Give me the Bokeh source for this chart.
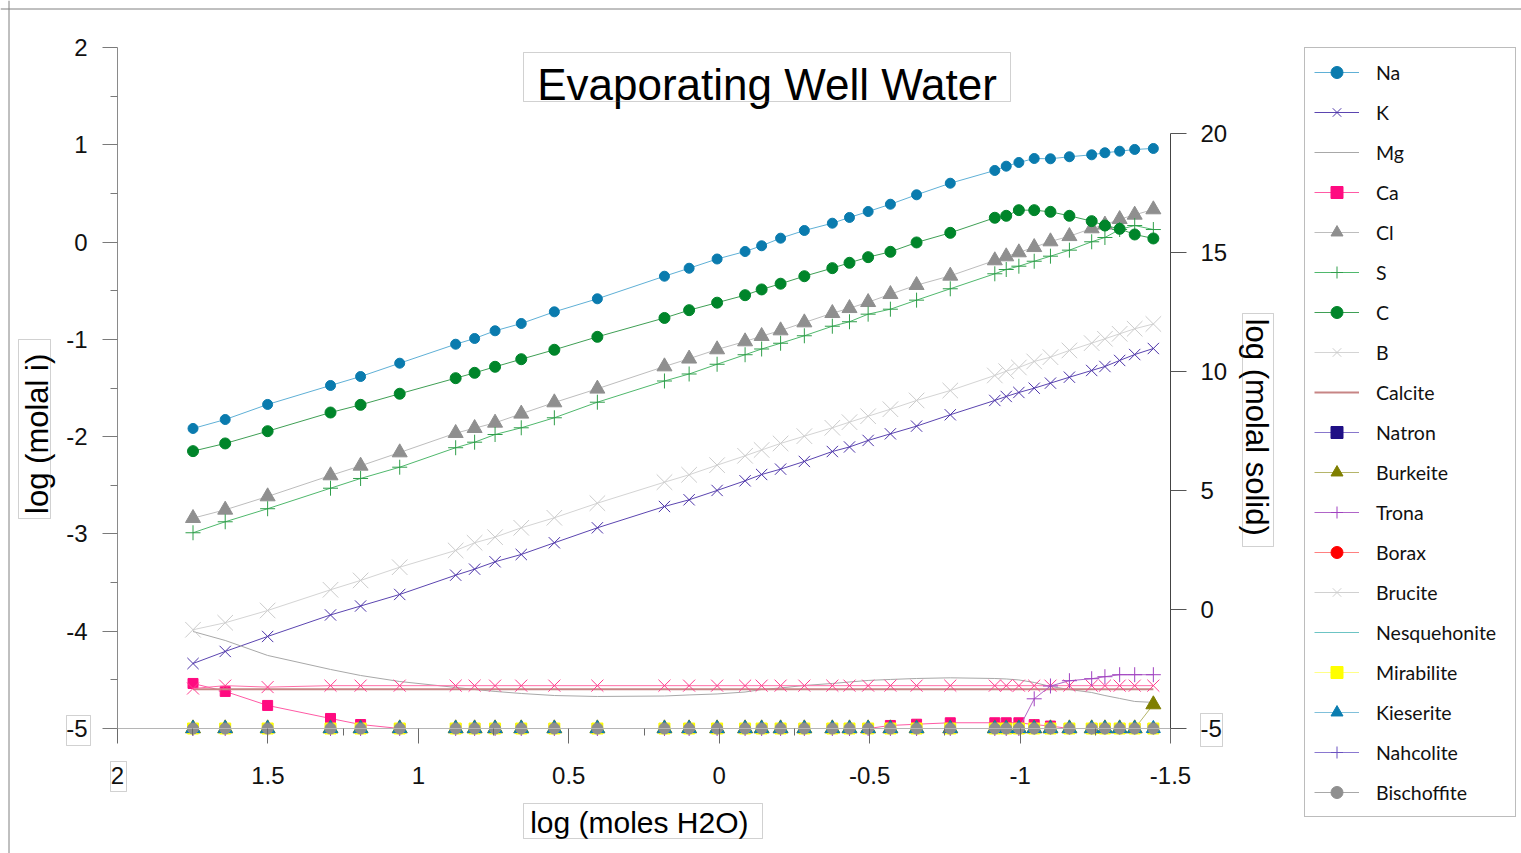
import math
from bokeh.plotting import figure
from bokeh.models import (Range1d, LinearAxis, FixedTicker, CustomJSTickFormatter,
                          Label, BoxAnnotation, Span, Legend, LegendItem, ColumnDataSource)
from bokeh.embed import file_html
from bokeh.resources import INLINE

# ---------------- data ----------------
log_h2o = [1.749, 1.642, 1.501, 1.292, 1.192, 1.062, 0.876, 0.813, 0.745, 0.658,
           0.548, 0.405, 0.182, 0.100, 0.007, -0.086, -0.141, -0.204, -0.283, -0.376,
           -0.433, -0.495, -0.569, -0.656, -0.768, -0.916, -0.954, -0.996, -1.047, -1.101,
           -1.164, -1.238, -1.282, -1.331, -1.381, -1.443]

# log molal of aqueous components (left axis)
na = [-1.916, -1.824, -1.669, -1.474, -1.382, -1.245, -1.050, -0.991, -0.912, -0.837,
      -0.717, -0.583, -0.351, -0.269, -0.174, -0.097, -0.038, 0.040, 0.119, 0.194,
      0.253, 0.314, 0.389, 0.486, 0.605, 0.736, 0.780, 0.818, 0.859, 0.856,
      0.877, 0.897, 0.918, 0.934, 0.952, 0.962]
k = [-4.332, -4.208, -4.054, -3.833, -3.741, -3.622, -3.424, -3.362, -3.286, -3.211,
     -3.091, -2.937, -2.718, -2.649, -2.553, -2.454, -2.389, -2.334, -2.255, -2.153,
     -2.106, -2.039, -1.971, -1.892, -1.775, -1.628, -1.587, -1.546, -1.502, -1.450,
     -1.389, -1.320, -1.279, -1.217, -1.156, -1.094]
mg = [-4.003, -4.095, -4.249, -4.393, -4.455, -4.517, -4.578, -4.599, -4.619, -4.640,
      -4.661, -4.671, -4.666, -4.655, -4.645, -4.625, -4.599, -4.583, -4.558, -4.537,
      -4.522, -4.506, -4.496, -4.486, -4.479, -4.486, -4.491, -4.501, -4.527, -4.568,
      -4.599, -4.630, -4.661, -4.691, -4.722, -4.732]
ca = [-4.537, -4.619, -4.763, -4.897, -4.959, -5.0, -5.0, -5.0, -5.0, -5.0,
      -5.0, -5.0, -5.0, -5.0, -5.0, -5.0, -5.0, -5.0, -5.0, -5.0,
      -5.0, -5.0, -4.969, -4.956, -4.941, -4.941, -4.941, -4.941, -4.960, -4.975,
      -5.0, -5.0, -5.0, -5.0, -5.0, -5.0]
cl = [-2.838, -2.752, -2.615, -2.399, -2.300, -2.163, -1.964, -1.913, -1.858, -1.765,
      -1.649, -1.508, -1.279, -1.199, -1.104, -1.022, -0.967, -0.909, -0.827, -0.731,
      -0.680, -0.618, -0.536, -0.443, -0.347, -0.189, -0.148, -0.107, -0.053, 0.006,
      0.060, 0.140, 0.178, 0.235, 0.280, 0.335]
s = [-2.988, -2.875, -2.741, -2.530, -2.430, -2.314, -2.114, -2.057, -1.978, -1.909,
     -1.806, -1.646, -1.428, -1.356, -1.256, -1.158, -1.099, -1.040, -0.963, -0.865,
     -0.819, -0.741, -0.690, -0.597, -0.480, -0.326, -0.282, -0.248, -0.197, -0.145,
     -0.083, 0.003, 0.047, 0.129, 0.170, 0.129]
c = [-2.149, -2.070, -1.944, -1.752, -1.673, -1.559, -1.399, -1.344, -1.282, -1.204,
     -1.107, -0.974, -0.780, -0.700, -0.623, -0.546, -0.487, -0.428, -0.351, -0.268,
     -0.213, -0.155, -0.100, -0.004, 0.095, 0.250, 0.270, 0.328, 0.328, 0.311,
     0.270, 0.215, 0.170, 0.136, 0.078, 0.037]
b = [-3.985, -3.913, -3.787, -3.574, -3.478, -3.342, -3.170, -3.091, -3.033, -2.937,
     -2.834, -2.684, -2.468, -2.392, -2.293, -2.197, -2.137, -2.070, -1.995, -1.909,
     -1.851, -1.790, -1.718, -1.628, -1.526, -1.371, -1.327, -1.289, -1.227, -1.183,
     -1.114, -1.039, -0.994, -0.943, -0.891, -0.842]

# log molal of solids (right axis)
calcite = [-3.35, -3.35, -3.35, -3.35, -3.35, -3.35, -3.35, -3.35, -3.35, -3.35,
           -3.35, -3.35, -3.35, -3.35, -3.35, -3.35, -3.35, -3.35, -3.35, -3.35,
           -3.35, -3.35, -3.35, -3.35, -3.35, -3.35, -3.35, -3.35, -3.35, -3.35,
           -3.35, -3.35, -3.35, -3.35, -3.35, -3.35]
unlisted_x = [-3.32, -3.20, -3.26, -3.20, -3.20, -3.20, -3.20, -3.20, -3.20, -3.20,
              -3.20, -3.20, -3.20, -3.20, -3.20, -3.20, -3.20, -3.20, -3.20, -3.20,
              -3.20, -3.20, -3.20, -3.20, -3.20, -3.20, -3.20, -3.20, -3.20, -3.20,
              -3.20, -3.20, -3.20, -3.20, -3.20, -3.20]
natron = [-5, -5, -5, -5, -5, -5, -5, -5, -5, -5, -5, -5, -5, -5, -5, -5, -5, -5,
          -5, -5, -5, -5, -5, -5, -5, -5, -5, -5, -5, -5, -5, -5, -5, -5, -5, -5]
burkeite = [-5, -5, -5, -5, -5, -5, -5, -5, -5, -5, -5, -5, -5, -5, -5, -5, -5, -5,
            -5, -5, -5, -5, -5, -5, -5, -5, -5, -5, -5, -5, -5, -5, -5, -5, -5, -3.99]
trona = [-5, -5, -5, -5, -5, -5, -5, -5, -5, -5, -5, -5, -5, -5, -5, -5, -5, -5,
         -5, -5, -5, -5, -5, -5, -5, -5, -5, -5, -3.752, -3.214, -2.992, -2.908,
         -2.824, -2.74, -2.74, -2.74]
borax = [-5, -5, -5, -5, -5, -5, -5, -5, -5, -5, -5, -5, -5, -5, -5, -5, -5, -5,
         -5, -5, -5, -5, -5, -5, -5, -5, -5, -5, -5, -5, -5, -5, -5, -5, -5, -5]
brucite = [-5, -5, -5, -5, -5, -5, -5, -5, -5, -5, -5, -5, -5, -5, -5, -5, -5, -5,
           -5, -5, -5, -5, -5, -5, -5, -5, -5, -5, -5, -5, -5, -5, -5, -5, -5, -5]
nesquehonite = [-5, -5, -5, -5, -5, -5, -5, -5, -5, -5, -5, -5, -5, -5, -5, -5, -5, -5,
                -5, -5, -5, -5, -5, -5, -5, -5, -5, -5, -5, -5, -5, -5, -5, -5, -5, -5]
mirabilite = [-5, -5, -5, -5, -5, -5, -5, -5, -5, -5, -5, -5, -5, -5, -5, -5, -5, -5,
              -5, -5, -5, -5, -5, -5, -5, -5, -5, -5, -5, -5, -5, -5, -5, -5, -5, -5]
kieserite = [-5, -5, -5, -5, -5, -5, -5, -5, -5, -5, -5, -5, -5, -5, -5, -5, -5, -5,
             -5, -5, -5, -5, -5, -5, -5, -5, -5, -5, -5, -5, -5, -5, -5, -5, -5, -5]
nahcolite = [-5, -5, -5, -5, -5, -5, -5, -5, -5, -5, -5, -5, -5, -5, -5, -5, -5, -5,
             -5, -5, -5, -5, -5, -5, -5, -5, -5, -5, -5, -5, -5, -5, -5, -5, -5, -5]
bischoffite = [-5, -5, -5, -5, -5, -5, -5, -5, -5, -5, -5, -5, -5, -5, -5, -5, -5, -5,
               -5, -5, -5, -5, -5, -5, -5, -5, -5, -5, -5, -5, -5, -5, -5, -5, -5, -5]

x_ticks = [2, 1.5, 1, 0.5, 0, -0.5, -1, -1.5]
y_ticks = [-5, -4, -3, -2, -1, 0, 1, 2]
y2_ticks = [-5, 0, 5, 10, 15, 20]

# ---------------- layout (pixels) ----------------
W, H = 1521, 853
PX_L, PX_R = 117, 1170          # x = 2 ... -1.5
PY_T, PY_B = 47, 728            # left y = 2 ... -5
PY_20 = 133                     # right y = 20
SX = (PX_R - PX_L) / 3.5
SY = (PY_B - PY_T) / 7.0
SY2 = (PY_B - PY_20) / 25.0


def dx(px):
    return 2.0 - (px - PX_L) / SX


def dy(py):
    return 2.0 - (py - PY_T) / SY


p = figure(width=W, height=H,
           x_range=Range1d(dx(0), dx(W)), y_range=Range1d(dy(H), dy(0)),
           x_axis_type=None, y_axis_type=None,
           output_backend="svg", toolbar_location=None, min_border=0)
p.extra_y_ranges = {"solid": Range1d(-5 - (H - PY_B) / SY2, -5 + PY_B / SY2)}
p.outline_line_color = None
p.background_fill_color = "white"
p.border_fill_color = "white"

TICK_FONT = "Liberation Sans"
fmt = CustomJSTickFormatter(code="return String(tick);")

yl = LinearAxis(fixed_location=2.0, bounds=(-5, 2),
                ticker=FixedTicker(ticks=y_ticks,
                                   minor_ticks=[-4.5, -3.5, -2.5, -1.5, -0.5, 0.5, 1.5]),
                formatter=fmt, major_tick_out=15, major_tick_in=0,
                minor_tick_out=7, minor_tick_in=0, major_label_standoff=15,
                axis_line_color="#8a8a8a", major_tick_line_color="#7a7a7a",
                minor_tick_line_color="#7a7a7a",
                major_label_text_font=TICK_FONT, major_label_text_font_size="24px",
                major_label_text_color="#111111")
p.add_layout(yl, "left")

xb = LinearAxis(fixed_location=-5.0, bounds=(-1.5, 2),
                ticker=FixedTicker(ticks=x_ticks,
                                   minor_ticks=[1.75, 1.25, 0.75, 0.25, -0.25, -0.75, -1.25]),
                formatter=fmt, major_tick_out=15, major_tick_in=0,
                minor_tick_out=7, minor_tick_in=0, major_label_standoff=23,
                axis_line_color="#b5b5b5", major_tick_line_color="#6a6a6a",
                minor_tick_line_color="#6a6a6a",
                major_label_text_font=TICK_FONT, major_label_text_font_size="24px",
                major_label_text_color="#111111")
p.add_layout(xb, "below")

yr = LinearAxis(y_range_name="solid", fixed_location=-1.5, bounds=(-5, 20),
                ticker=FixedTicker(ticks=y2_ticks, minor_ticks=[]),
                formatter=fmt, major_tick_out=16, major_tick_in=0,
                minor_tick_out=0, minor_tick_in=0, major_label_standoff=14,
                axis_line_color="#444444", major_tick_line_color="#555555",
                major_label_text_font=TICK_FONT, major_label_text_font_size="24px",
                major_label_text_color="#111111")
p.add_layout(yr, "right")

src = ColumnDataSource(dict(x=log_h2o, Na=na, K=k, Mg=mg, Ca=ca, Cl=cl, S=s, C=c, B=b,
                            Calcite=calcite, Xs=unlisted_x, Natron=natron,
                            Burkeite=burkeite, Trona=trona, Borax=borax, Brucite=brucite,
                            Nesquehonite=nesquehonite, Mirabilite=mirabilite,
                            Kieserite=kieserite, Nahcolite=nahcolite,
                            Bischoffite=bischoffite))

# (column, legend label, axis, line colour, line width, marker, marker colour, size)
styles = [
    ("Na", "Na", None, "#5fb0d6", 1, "circle", "#0a7bae", 10),
    ("K", "K", None, "#5b45b0", 1, "x", "#4b32a8", 16),
    ("Mg", "Mg", None, "#a8a8a8", 1, None, None, 0),
    ("Ca", "Ca", None, "#ff5aa5", 1, "square", "#ff0a80", 10),
    ("Cl", "Cl", None, "#bdbdbd", 1, "triangle", "#8f8f8f", 15),
    ("S", "S", None, "#4fb86c", 1, "cross", "#2f9e4a", 15),
    ("C", "C", None, "#3f9f55", 1, "circle", "#00852a", 11),
    ("B", "B", None, "#d4d4d4", 1, "x", "#cccccc", 22),
    ("Calcite", "Calcite", "solid", "#c78585", 2, None, None, 0),
    ("Xs", None, "solid", "#ff6fa8", 1, "x", "#ff3d8e", 17),
    ("Natron", "Natron", "solid", "#8877cc", 1, "square", "#1f0f85", 10),
    ("Burkeite", "Burkeite", "solid", "#b5b56a", 1, "triangle", "#7f7f00", 15),
    ("Trona", "Trona", "solid", "#b065c8", 1, "cross", "#a040c0", 15),
    ("Borax", "Borax", "solid", "#ff8080", 1, "circle", "#ff0000", 10),
    ("Brucite", "Brucite", "solid", "#d0d0d0", 1, "x", "#cfcfcf", 15),
    ("Nesquehonite", "Nesquehonite", "solid", "#6cc4c4", 1, None, None, 0),
    ("Mirabilite", "Mirabilite", "solid", "#ffff88", 1, "square", "#ffff00", 11),
    ("Kieserite", "Kieserite", "solid", "#80c0da", 1, "triangle", "#0b7db0", 14),
    ("Nahcolite", "Nahcolite", "solid", "#8a78d0", 1, "cross", "#6a50c0", 12),
    ("Bischoffite", "Bischoffite", "solid", "#a8a8a8", 1, "circle", "#8f8f8f", 11),
]

items = []
for col, label, rng, lc, lw, marker, mc, size in styles:
    kw = {} if rng is None else {"y_range_name": rng}
    rs = [p.line("x", col, source=src, line_color=lc, line_width=lw, **kw)]
    if marker is not None:
        if marker in ("x", "cross"):
            rs.append(p.scatter("x", col, source=src, marker=marker, size=size,
                                line_color=mc, line_width=1, **kw))
        else:
            rs.append(p.scatter("x", col, source=src, marker=marker, size=size,
                                fill_color=mc, line_color=mc, **kw))
    if label is not None:
        items.append(LegendItem(label=label, renderers=rs))

legend = Legend(items=items, location=(1304, 36), orientation="vertical",
                border_line_color="#7a7a7a", border_line_width=1,
                background_fill_color="white", background_fill_alpha=1.0,
                label_text_font="Lato", label_text_font_size="19.5px",
                label_text_color="#111111", glyph_width=45, glyph_height=30,
                label_height=20, label_width=130, spacing=10, padding=9,
                margin=0, label_standoff=17)
p.add_layout(legend)

# ---------------- texts and boxes ----------------
def box(l, t, r, btm, color="#666666"):
    p.add_layout(BoxAnnotation(left=dx(l), right=dx(r), top=dy(t), bottom=dy(btm),
                               fill_color=None, fill_alpha=0, line_color=color,
                               line_width=1))


p.add_layout(Label(x=dx(766.5), y=dy(84), text="Evaporating Well Water",
                   text_align="center", text_baseline="alphabetic",
                   text_font="Liberation Sans", text_font_size="44px",
                   text_color="#000000"))
box(523, 52, 1010, 101)

p.add_layout(Label(x=dx(643), y=dy(822), text="log (moles  H2O)",
                   text_align="center", text_baseline="alphabetic",
                   text_font="Liberation Sans", text_font_size="30px",
                   text_color="#000000"))
box(523, 803, 762, 838)

p.add_layout(Label(x=dx(37), y=dy(429), text="log (molal  i)", angle=math.pi / 2,
                   text_align="center", text_baseline="alphabetic",
                   text_font="Liberation Sans", text_font_size="31px",
                   text_color="#000000"))
box(18, 339, 50, 518)

p.add_layout(Label(x=dx(1256), y=dy(431), text="log (molal  solid)", angle=-math.pi / 2,
                   text_align="center", text_baseline="alphabetic",
                   text_font="Liberation Sans", text_font_size="31px",
                   text_color="#000000"))
box(1242, 313, 1273, 546)

# boxed tick labels
box(110, 761, 126, 791)
box(66, 715, 90, 745)
box(1200, 713, 1222, 746)

# outer frame lines
p.add_layout(Span(location=dx(8.5), dimension="height", line_color="#808080", line_width=1))
p.add_layout(Span(location=dy(8.5), dimension="width", line_color="#808080", line_width=1))

open("out.html", "w").write(file_html(p, INLINE))
